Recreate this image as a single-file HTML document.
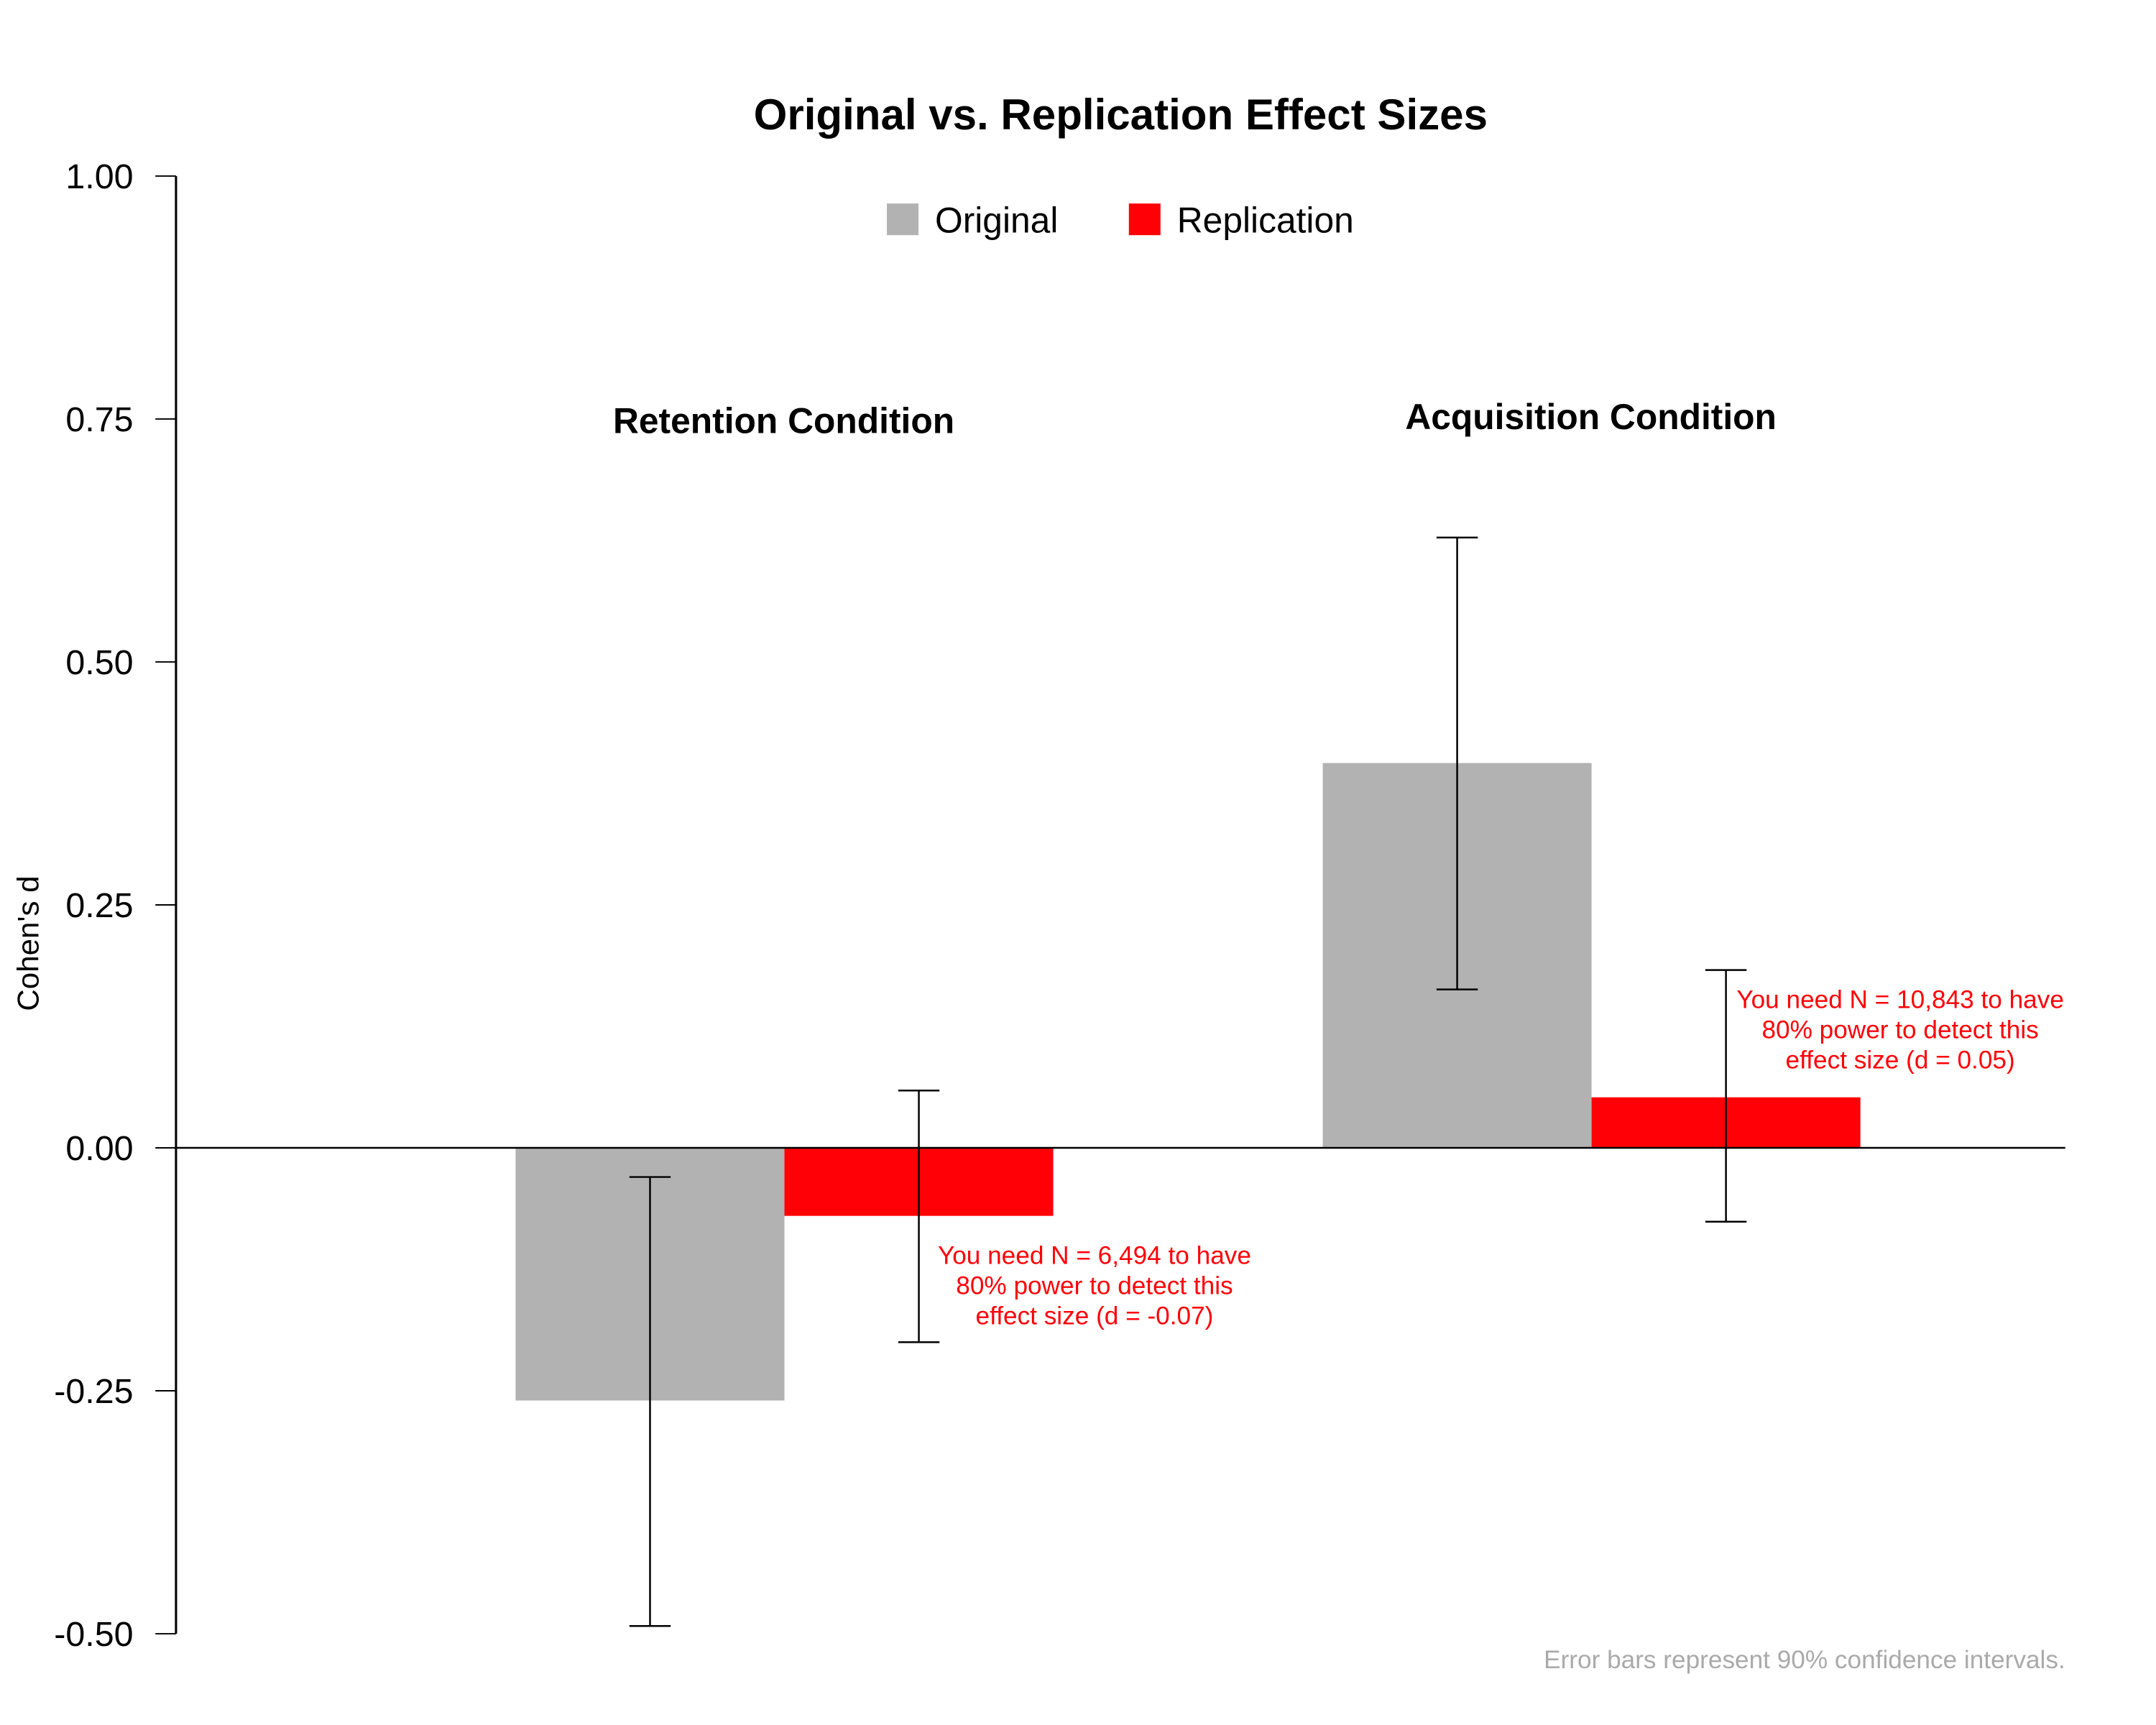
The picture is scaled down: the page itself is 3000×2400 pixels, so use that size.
<!DOCTYPE html>
<html><head><meta charset="utf-8"><style>
html,body{margin:0;padding:0;background:#fff;}
svg{display:block;font-family:"Liberation Sans",Arial,sans-serif;}
</style></head><body>
<svg id="chart" width="3000" height="2400" viewBox="0 0 1568 1254.4" xmlns="http://www.w3.org/2000/svg">
<text x="815" y="94" text-anchor="middle" font-size="31.4" font-weight="bold">Original vs. Replication Effect Sizes</text>
<g>
<rect x="645" y="148" width="23" height="23" fill="#b2b2b2"/>
<text x="680" y="169" font-size="26">Original</text>
<rect x="821" y="148" width="23" height="23" fill="#ff0007"/>
<text x="856" y="169" font-size="26">Replication</text>
</g>
<text transform="translate(28,686) rotate(-90)" text-anchor="middle" font-size="22">Cohen's d</text>
<g id="yaxis"></g>
<g id="marks"></g>
<text x="570" y="315" text-anchor="middle" font-size="26" font-weight="bold">Retention Condition</text>
<text x="1157" y="312" text-anchor="middle" font-size="26" font-weight="bold">Acquisition Condition</text>
<g fill="#ff0007" font-size="18.4" text-anchor="middle">
<text x="796" y="919">You need N = 6,494 to have</text>
<text x="796" y="941">80% power to detect this</text>
<text x="796" y="963">effect size (d = -0.07)</text>
</g>
<g fill="#ff0007" font-size="18.4" text-anchor="middle">
<text x="1382" y="733">You need N = 10,843 to have</text>
<text x="1382" y="755">80% power to detect this</text>
<text x="1382" y="777">effect size (d = 0.05)</text>
</g>
<text x="1502" y="1213" text-anchor="end" font-size="18.4" fill="#aaaaaa">Error bars represent 90% confidence intervals.</text>
</svg>
<script>
const ticks=[1,0.75,0.5,0.25,0,-0.25,-0.5];
const tickLabels=["1.00","0.75","0.50","0.25","0.00","-0.25","-0.50"];
const groups=["Retention","Acquisition"];
const originalVals=[-0.26,0.396];
const replicationVals=[-0.07,0.052];
const originalLo=[-0.492,0.163];
const originalHi=[-0.03,0.628];
const replicationLo=[-0.2,-0.076];
const replicationHi=[0.059,0.183];

const NS="http://www.w3.org/2000/svg";
const y=v=>834.7-v*706.67;
const groupX=i=>375+i*587;
const BW=195.5;
function mk(tag,attrs,parent){const e=document.createElementNS(NS,tag);for(const k in attrs)e.setAttribute(k,attrs[k]);parent.appendChild(e);return e;}
const ya=document.getElementById('yaxis');
const ax=mk('line',{x1:128,x2:128,y1:y(1),y2:y(-0.5),stroke:'#000','stroke-width':1.6},ya);


ticks.forEach((t,i)=>{
  const l=mk('line',{x1:113,x2:128,y1:y(t),y2:y(t),stroke:'#000','stroke-width':1},ya);
  
  
  const tx=mk('text',{x:97,y:y(t)+9,'text-anchor':'end','font-size':25.3},ya);
  tx.textContent=tickLabels[i];
  
  
});
const m=document.getElementById('marks');
groups.forEach((g,i)=>{
  const x0=groupX(i);
  [[originalVals,'#b2b2b2','original'],[replicationVals,'#ff0007','replication']].forEach((s,j)=>{
    const v=s[0][i],bx=x0+j*BW;
    const r=mk('rect',{x:bx,y:Math.min(y(0),y(v)),width:BW,height:Math.abs(y(v)-y(0)),fill:s[1]},m);
    
    
  });
});
const zl=mk('line',{x1:128,x2:1502,y1:y(0),y2:y(0),stroke:'#000','stroke-width':1.3},m);


groups.forEach((g,i)=>{
  const x0=groupX(i);
  [[originalLo,originalHi,'original'],[replicationLo,replicationHi,'replication']].forEach((s,j)=>{
    const cx=x0+j*BW+BW/2;
    const eg=mk('g',{stroke:'#000','stroke-width':1.3},m);
    
    
    mk('line',{x1:cx,x2:cx,y1:y(s[0][i]),y2:y(s[1][i])},eg);
    mk('line',{x1:cx-15,x2:cx+15,y1:y(s[0][i]),y2:y(s[0][i])},eg);
    mk('line',{x1:cx-15,x2:cx+15,y1:y(s[1][i]),y2:y(s[1][i])},eg);
  });
});
</script>
</body></html>
